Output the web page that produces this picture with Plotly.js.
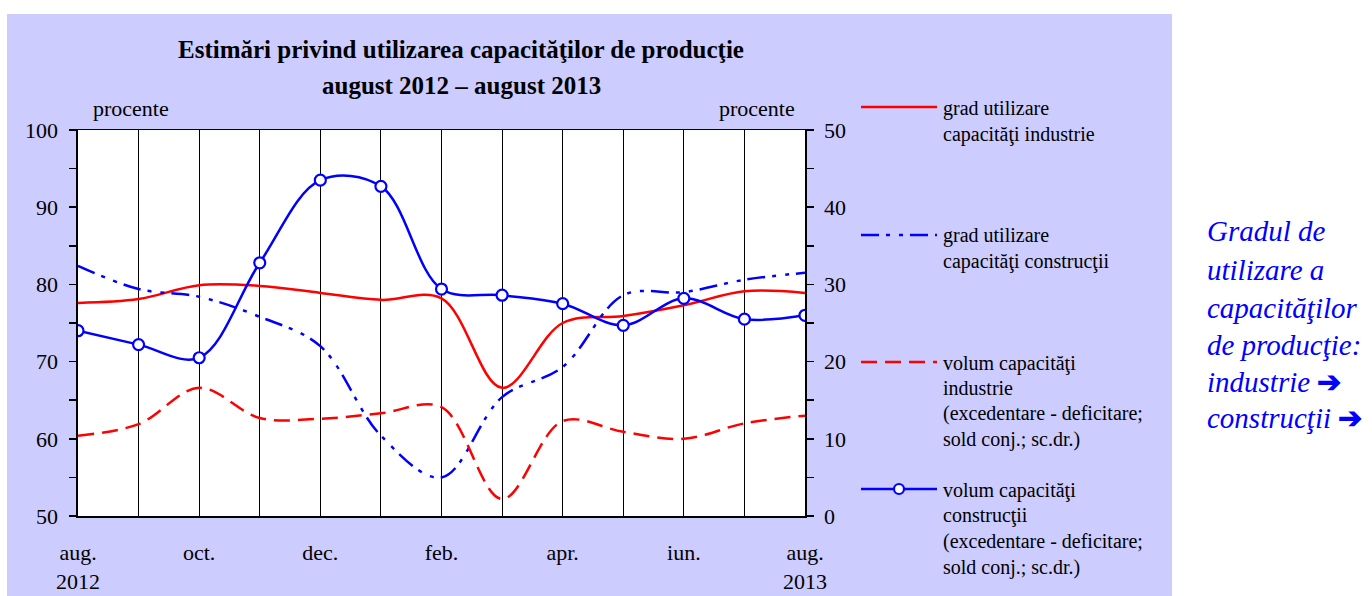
<!DOCTYPE html>
<html>
<head>
<meta charset="utf-8">
<script src="https://cdn.plot.ly/plotly-3.0.1.min.js"></script>
<style>html,body{margin:0;padding:0;background:#fff;}#chart{width:1372px;height:596px;}</style>
</head>
<body>
<div id="chart"></div>
<script>
// ---- data ----
const months = ['aug. 2012','sep. 2012','oct. 2012','nov. 2012','dec. 2012','ian. 2013','feb. 2013','mar. 2013','apr. 2013','mai. 2013','iun. 2013','iul. 2013','aug. 2013'];
const tickLabels = ['aug.<br>2012','','oct.','','dec.','','feb.','','apr.','','iun.','','aug.<br>2013'];
const gradIndustrie = [77.6, 78.1, 79.9, 79.8, 78.9, 78.0, 78.2, 66.6, 75.0, 75.9, 77.3, 79.1, 78.9];
const gradConstructii = [82.4, 79.4, 78.4, 75.8, 72.0, 60.4, 55.0, 65.4, 69.3, 78.6, 79.0, 80.6, 81.5];
const volumIndustrie = [10.4, 11.9, 16.6, 12.7, 12.6, 13.3, 14.1, 2.2, 12.3, 10.9, 10.0, 12.0, 13.0];
const volumConstructii = [24.0, 22.2, 20.5, 32.8, 43.5, 42.7, 29.4, 28.6, 27.5, 24.7, 28.2, 25.5, 26.0];
const legendLines = [
  ['grad utilizare', 'capacităţi industrie'],
  ['grad utilizare', 'capacităţi construcţii'],
  ['volum capacităţi', 'industrie', '(excedentare - deficitare;', 'sold conj.; sc.dr.)'],
  ['volum capacităţi', 'construcţii', '(excedentare - deficitare;', 'sold conj.; sc.dr.)']
];
const sideNote = ['Gradul de', 'utilizare a', 'capacităţilor', 'de producţie:', 'industrie', 'construcţii'];
const sideArrows = ['', '', '', '', '➔', '➔'];
const titleLines = ['Estimări privind utilizarea capacităţilor de producţie', 'august 2012 – august 2013'];

// ---- geometry helpers (pixel -> paper) ----
const PL = 78, PR = 805, PT = 130, PB = 516;
const W = PR - PL, H = PB - PT;
const px = x => (x - PL) / W;
const py = y => (PB - y) / H;

const SERIF = 'Liberation Serif, Times New Roman, serif';
const RED = '#ff0000', BLUE = '#0000ff';
const DASH_RED = '16px,8px';
const DASH_BLUE = '18px,7px,4px,9px,4px,7px';

const traces = [
  {x: months, y: gradIndustrie, type: 'scatter', mode: 'lines', yaxis: 'y',
   line: {color: RED, width: 2.5, shape: 'spline', smoothing: 1}},
  {x: months, y: gradConstructii, type: 'scatter', mode: 'lines', yaxis: 'y',
   line: {color: BLUE, width: 2.5, shape: 'spline', smoothing: 1, dash: DASH_BLUE}},
  {x: months, y: volumIndustrie, type: 'scatter', mode: 'lines', yaxis: 'y2',
   line: {color: RED, width: 2.5, shape: 'spline', smoothing: 1, dash: DASH_RED}},
  {x: months, y: volumConstructii, type: 'scatter', mode: 'lines+markers', yaxis: 'y2',
   line: {color: BLUE, width: 2.5, shape: 'spline', smoothing: 1},
   marker: {symbol: 'circle', size: 11, color: '#ffffff', line: {color: BLUE, width: 2.2}}}
];

const shapes = [
  {type: 'rect', xref: 'paper', yref: 'paper', layer: 'below',
   x0: px(7), x1: px(1172), y0: py(600), y1: py(14), fillcolor: '#ccccff', line: {width: 0}},
  {type: 'rect', xref: 'paper', yref: 'paper', layer: 'below',
   x0: 0, x1: 1, y0: 0, y1: 1, fillcolor: '#ffffff', line: {width: 0}},
  // legend samples
  {type: 'line', xref: 'paper', yref: 'paper', x0: px(861), x1: px(937), y0: py(107), y1: py(107), line: {color: RED, width: 2.5}},
  {type: 'line', xref: 'paper', yref: 'paper', x0: px(861), x1: px(937), y0: py(235), y1: py(235), line: {color: BLUE, width: 2.5, dash: DASH_BLUE}},
  {type: 'line', xref: 'paper', yref: 'paper', x0: px(861), x1: px(937), y0: py(362), y1: py(362), line: {color: RED, width: 2.5, dash: DASH_RED}},
  {type: 'line', xref: 'paper', yref: 'paper', x0: px(861), x1: px(937), y0: py(489), y1: py(489), line: {color: BLUE, width: 2.5}},
  {type: 'circle', xref: 'paper', yref: 'paper', x0: px(894), x1: px(904), y0: py(494), y1: py(484), fillcolor: '#ffffff', line: {color: BLUE, width: 2.2}}
];

const annotations = [];
const titleY = [50, 85];
titleLines.forEach((t, i) => annotations.push({
  text: '<b>' + t + '</b>', xref: 'paper', yref: 'paper', x: px(461), y: py(titleY[i]),
  xanchor: 'center', yanchor: 'middle', showarrow: false,
  font: {family: SERIF, size: 25, color: '#000'}
}));
annotations.push({text: 'procente', xref: 'paper', yref: 'paper', x: px(131), y: py(108),
  xanchor: 'center', yanchor: 'middle', showarrow: false, font: {family: SERIF, size: 22, color: '#000'}});
annotations.push({text: 'procente', xref: 'paper', yref: 'paper', x: px(757), y: py(108),
  xanchor: 'center', yanchor: 'middle', showarrow: false, font: {family: SERIF, size: 22, color: '#000'}});

const legendY = [[108, 134], [235, 261], [363, 388, 413, 439], [490, 515, 541, 567]];
legendLines.forEach((lines, i) => lines.forEach((t, j) => annotations.push({
  text: t, xref: 'paper', yref: 'paper', x: px(941), y: py(legendY[i][j]),
  xanchor: 'left', yanchor: 'middle', showarrow: false,
  font: {family: SERIF, size: 20, color: '#000'}
})));

const noteY = [231, 270, 308, 345, 382, 418];
sideNote.forEach((t, i) => annotations.push({
  text: '<i>' + t + '</i>' + (sideArrows[i] ? ' <b>' + sideArrows[i] + '</b>' : ''),
  xref: 'paper', yref: 'paper', x: px(1205), y: py(noteY[i]),
  xanchor: 'left', yanchor: 'middle', showarrow: false,
  font: {family: SERIF, size: 29, color: BLUE}
}));

const axisFont = {family: SERIF, size: 22, color: '#000'};
const layout = {
  width: 1372, height: 596,
  margin: {l: PL, r: 1372 - PR, t: PT, b: 596 - PB, pad: 0},
  paper_bgcolor: '#ffffff', plot_bgcolor: 'rgba(0,0,0,0)',
  showlegend: false,
  xaxis: {
    type: 'category', categoryorder: 'array', categoryarray: months,
    range: [0, 12], tickvals: months, ticktext: tickLabels,
    showgrid: true, gridcolor: '#000', gridwidth: 1,
    showline: true, linecolor: '#000', linewidth: 1.5, mirror: true,
    ticks: '', tickfont: axisFont, ticklabelstandoff: 16, zeroline: false, fixedrange: true
  },
  yaxis: {
    range: [50, 100], dtick: 10, tick0: 50, ticks: 'outside', ticklen: 7, tickwidth: 1.5, tickcolor: '#000',
    minor: {dtick: 5, tick0: 50, ticks: 'outside', ticklen: 7, tickwidth: 1.5, tickcolor: '#000', showgrid: false},
    showgrid: false, zeroline: false, showline: true, linecolor: '#000', linewidth: 2.5,
    tickfont: axisFont, ticklabelstandoff: 6, fixedrange: true
  },
  yaxis2: {
    overlaying: 'y', side: 'right',
    range: [0, 50], dtick: 10, tick0: 0, ticks: 'outside', ticklen: 7, tickwidth: 1.5, tickcolor: '#000',
    minor: {dtick: 5, tick0: 0, ticks: 'outside', ticklen: 7, tickwidth: 1.5, tickcolor: '#000', showgrid: false},
    showgrid: false, zeroline: false, showline: true, linecolor: '#000', linewidth: 1.5,
    tickfont: axisFont, ticklabelstandoff: 6, fixedrange: true
  },
  shapes: shapes,
  annotations: annotations
};

Plotly.newPlot('chart', traces, layout, {displayModeBar: false, staticPlot: true});
</script>
</body>
</html>
